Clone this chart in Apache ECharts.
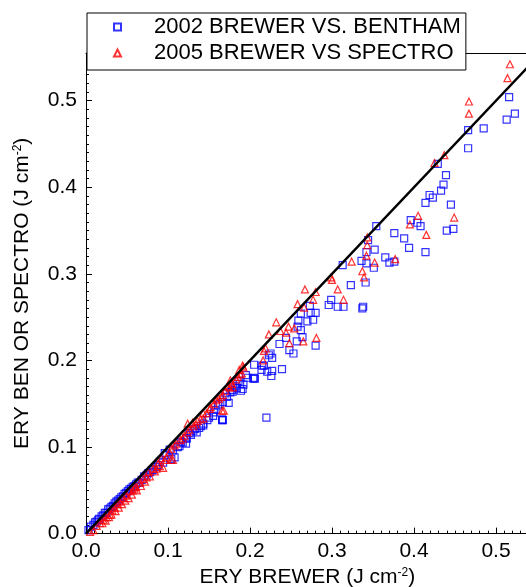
<!DOCTYPE html>
<html>
<head>
<meta charset="utf-8">
<script src="https://cdn.jsdelivr.net/npm/echarts@6/dist/echarts.min.js"></script>
<style>
html,body{margin:0;padding:0;background:#fff;}
#chart{width:526px;height:587px;}
</style>
</head>
<body>
<div id="chart"></div>
<script>
// ---- data ----
const seriesNames = ["2002 BREWER VS. BENTHAM", "2005 BREWER VS SPECTRO"];
const xTickLabels = ["0.0", "0.1", "0.2", "0.3", "0.4", "0.5"];
const yTickLabels = ["0.0", "0.1", "0.2", "0.3", "0.4", "0.5"];

const benthamX = [0.003,0.006,0.009,0.013,0.016,0.019,0.021,0.025,0.029,0.033,0.037,0.041,0.045,0.049,0.053,0.057,0.061,0.065,0.068,0.074,0.078,0.082,0.086,0.088,0.094,0.096,0.102,0.104,0.108,0.114,0.118,0.122,0.122,0.123,0.128,0.133,0.135,0.140,0.143,0.143,0.148,0.155,0.156,0.161,0.166,0.166,0.167,0.167,0.170,0.174,0.178,0.179,0.182,0.188,0.189,0.191,0.192,0.195,0.204,0.205,0.205,0.206,0.214,0.215,0.217,0.220,0.221,0.223,0.225,0.226,0.227,0.227,0.236,0.239,0.244,0.248,0.253,0.257,0.258,0.259,0.262,0.262,0.264,0.270,0.273,0.274,0.277,0.280,0.280,0.296,0.299,0.307,0.313,0.314,0.323,0.336,0.337,0.338,0.341,0.342,0.342,0.344,0.351,0.352,0.354,0.365,0.370,0.376,0.376,0.388,0.394,0.396,0.404,0.408,0.414,0.414,0.419,0.423,0.429,0.433,0.436,0.439,0.440,0.445,0.448,0.466,0.466,0.485,0.513,0.516,0.523,
  0.011,0.015,0.023,0.027,0.031,0.035,0.039,0.043,0.047,0.051,0.055,0.059,0.063,0.071,0.076,0.080,0.090,0.098,0.106,0.112,0.116,0.126,0.131,0.138,0.150,0.158,0.163,0.172,0.176,0.184,0.186,0.197];
const benthamY = [0.004,0.008,0.010,0.014,0.017,0.020,0.021,0.024,0.029,0.032,0.037,0.040,0.043,0.047,0.051,0.054,0.057,0.059,0.062,0.068,0.071,0.074,0.077,0.079,0.082,0.093,0.097,0.086,0.088,0.101,0.105,0.110,0.104,0.110,0.114,0.121,0.117,0.124,0.127,0.125,0.131,0.136,0.140,0.148,0.132,0.131,0.152,0.131,0.162,0.151,0.166,0.164,0.170,0.173,0.165,0.167,0.172,0.183,0.179,0.195,0.180,0.179,0.189,0.194,0.194,0.134,0.187,0.206,0.208,0.182,0.203,0.188,0.219,0.190,0.226,0.212,0.208,0.222,0.239,0.246,0.235,0.254,0.227,0.245,0.263,0.255,0.247,0.255,0.217,0.264,0.270,0.262,0.310,0.262,0.287,0.315,0.260,0.262,0.290,0.312,0.325,0.339,0.307,0.328,0.355,0.319,0.313,0.314,0.347,0.341,0.330,0.362,0.359,0.355,0.382,0.325,0.391,0.388,0.427,0.396,0.403,0.414,0.350,0.380,0.352,0.466,0.445,0.468,0.478,0.504,0.485,
  0.013,0.016,0.024,0.028,0.031,0.035,0.038,0.042,0.046,0.049,0.052,0.055,0.059,0.066,0.070,0.073,0.083,0.091,0.096,0.100,0.106,0.116,0.119,0.122,0.134,0.143,0.150,0.158,0.163,0.168,0.176,0.180];

const spectroX = [0.005,0.009,0.013,0.017,0.021,0.025,0.029,0.032,0.035,0.039,0.041,0.045,0.049,0.053,0.057,0.059,0.061,0.066,0.070,0.074,0.076,0.082,0.086,0.088,0.092,0.094,0.096,0.104,0.104,0.106,0.108,0.115,0.120,0.124,0.124,0.130,0.131,0.136,0.143,0.143,0.147,0.151,0.152,0.159,0.165,0.166,0.167,0.168,0.173,0.175,0.176,0.178,0.179,0.185,0.187,0.190,0.191,0.192,0.216,0.217,0.219,0.223,0.232,0.237,0.244,0.247,0.248,0.254,0.258,0.265,0.266,0.267,0.277,0.280,0.281,0.299,0.300,0.307,0.314,0.324,0.337,0.339,0.342,0.343,0.343,0.352,0.377,0.395,0.405,0.415,0.425,0.437,0.449,0.467,0.467,0.514,0.517,
  0.020,0.024,0.028,0.031,0.036,0.040,0.044,0.048,0.052,0.056,0.062,0.067,0.072,0.078,0.084,0.090,0.098,0.102,0.110,0.118,0.126,0.134,0.140,0.156,0.162,0.170,0.183,0.188];
const spectroY = [0.002,0.004,0.009,0.012,0.016,0.019,0.022,0.027,0.030,0.034,0.037,0.041,0.044,0.049,0.050,0.052,0.054,0.059,0.063,0.065,0.071,0.075,0.075,0.081,0.087,0.076,0.085,0.098,0.085,0.085,0.102,0.108,0.113,0.117,0.127,0.128,0.124,0.130,0.133,0.139,0.139,0.144,0.146,0.154,0.158,0.142,0.160,0.142,0.170,0.169,0.177,0.173,0.169,0.181,0.189,0.185,0.194,0.192,0.200,0.211,0.214,0.230,0.244,0.234,0.232,0.239,0.220,0.237,0.265,0.222,0.261,0.282,0.270,0.279,0.226,0.296,0.293,0.282,0.270,0.314,0.303,0.296,0.321,0.333,0.342,0.313,0.317,0.357,0.367,0.345,0.428,0.437,0.365,0.485,0.499,0.526,0.542,
  0.012,0.015,0.019,0.022,0.026,0.030,0.034,0.038,0.041,0.045,0.050,0.055,0.060,0.066,0.072,0.078,0.088,0.094,0.104,0.110,0.120,0.126,0.132,0.150,0.156,0.165,0.178,0.184];

const oneToOne = [[0, 0], [0.6, 0.6]];

function pairs(xs, ys) { return xs.map((x, i) => [x, ys[i]]); }

const FONT = "Liberation Sans, Arial, sans-serif";
const chart = echarts.init(document.getElementById('chart'), null, {renderer: 'canvas'});

const X_MAX = 0.54, Y_MAX = 0.555;
const PX_X = 820, PX_Y = 866;

chart.setOption({
  animation: false,
  backgroundColor: '#ffffff',
  grid: {left: 86, top: 53, width: X_MAX * PX_X, height: Y_MAX * PX_Y, containLabel: false, outerBoundsMode: 'none'},
  legend: {
    data: seriesNames,
    orient: 'vertical',
    left: 87, top: 13,
    backgroundColor: '#ffffff',
    borderColor: '#000000', borderWidth: 1,
    padding: [3, 5, 6, 26],
    itemWidth: 7, itemHeight: 7,
    itemGap: 4,
    textStyle: {fontFamily: FONT, fontSize: 22, color: '#000', lineHeight: 22, padding: [0, 0, 0, 28]},
    z: 10
  },
  xAxis: [{
    type: 'value', position: 'bottom', min: 0, max: X_MAX, interval: 0.1,
    name: 'ERY BREWER (J cm{sup|-2})', nameLocation: 'middle', nameGap: 31,
    nameTextStyle: {fontFamily: FONT, fontSize: 21, color: '#000',
      rich: {sup: {fontFamily: FONT, fontSize: 12, color: '#000', verticalAlign: 'top', padding: [0, 0, 9, 0]}}},
    axisLine: {show: true, onZero: false, lineStyle: {color: '#000', width: 1}},
    axisTick: {show: true, inside: true, length: 6, lineStyle: {color: '#000'}},
    minorTick: {show: true, splitNumber: 10, length: 3, lineStyle: {color: '#000'}},
    axisLabel: {fontFamily: FONT, fontSize: 21, color: '#000', margin: 7,
      showMaxLabel: false, formatter: v => xTickLabels[Math.round(v * 10)] || ''},
    splitLine: {show: false}
  }, {
    type: 'value', position: 'top', min: 0, max: X_MAX,
    axisLine: {show: true, onZero: false, lineStyle: {color: '#000', width: 1}},
    axisTick: {show: false}, axisLabel: {show: false}, splitLine: {show: false}
  }],
  yAxis: [{
    type: 'value', min: 0, max: Y_MAX, interval: 0.1,
    name: 'ERY BEN OR SPECTRO (J cm{sup|-2})', nameLocation: 'middle', nameGap: 53,
    nameTextStyle: {fontFamily: FONT, fontSize: 21, color: '#000',
      rich: {sup: {fontFamily: FONT, fontSize: 12, color: '#000', verticalAlign: 'top', padding: [0, 0, 9, 0]}}},
    axisLine: {show: true, onZero: false, lineStyle: {color: '#000', width: 1}},
    axisTick: {show: true, inside: true, length: 6, lineStyle: {color: '#000'}},
    minorTick: {show: true, splitNumber: 10, length: 3, lineStyle: {color: '#000'}},
    axisLabel: {fontFamily: FONT, fontSize: 21, color: '#000', margin: 9,
      showMaxLabel: false, formatter: v => yTickLabels[Math.round(v * 10)] || ''},
    splitLine: {show: false}
  }],
  series: [{
    name: seriesNames[0], type: 'scatter', xAxisIndex: 0, yAxisIndex: 0,
    symbol: 'rect', symbolSize: 7,
    itemStyle: {color: 'rgba(255,255,255,0)', borderColor: '#0000ff', borderWidth: 1.2},
    data: pairs(benthamX, benthamY)
  }, {
    name: seriesNames[1], type: 'scatter', xAxisIndex: 0, yAxisIndex: 0,
    symbol: 'triangle', symbolSize: 7,
    itemStyle: {color: 'rgba(255,255,255,0)', borderColor: '#ff0000', borderWidth: 1.2},
    data: pairs(spectroX, spectroY)
  }, {
    name: 'one-to-one', type: 'line', xAxisIndex: 0, yAxisIndex: 0,
    symbol: 'none', clip: true, silent: true,
    lineStyle: {color: '#000', width: 2.5},
    data: oneToOne
  }]
});
</script>
</body>
</html>
